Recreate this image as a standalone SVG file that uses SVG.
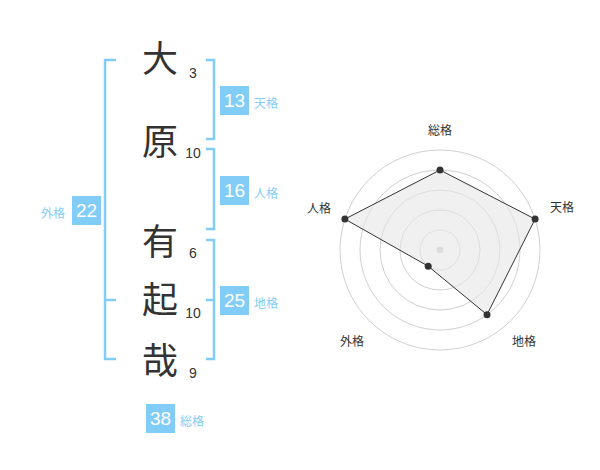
<svg xmlns="http://www.w3.org/2000/svg" width="600" height="470" viewBox="0 0 600 470">
<style>
.ch{font-family:"Noto Sans CJK JP","Noto Sans CJK SC",sans-serif;font-size:36px;fill:#333;text-anchor:middle}
.st{font-family:"Liberation Sans",Arial,sans-serif;font-size:14px;fill:#333;text-anchor:middle}
.bx{fill:#82cdf8}
.bn{font-family:"Liberation Sans",Arial,sans-serif;font-size:19px;fill:#fff;text-anchor:middle}
.lb{font-family:"Noto Sans CJK JP",sans-serif;font-size:12px;fill:#82cdf8}
.br{fill:none;stroke:#82cdf8;stroke-width:2.5}
.rg{fill:none;stroke:#d0d0d0;stroke-width:1}
.rl{font-family:"Noto Sans CJK JP",sans-serif;font-size:12px;fill:#333;text-anchor:middle}
.pt{fill:#333}
</style>
<rect width="600" height="470" fill="#fff"/>
<g id="connectors">
<path class="br" d="M116,60 H105 V359 H116 M105,300 H116"/>
<path class="br" d="M206,60 H214 V139 H206"/>
<path class="br" d="M206,149 H214 V229 H206"/>
<path class="br" d="M206,240 H214 V359 H206 M206,300 H214"/>
</g>
<g id="chars">
<text class="ch" x="160" y="72">大</text>
<text class="ch" x="160" y="155">原</text>
<text class="ch" x="160" y="255">有</text>
<text class="ch" x="160" y="313">起</text>
<text class="ch" x="160" y="374">哉</text>
<text class="st" x="193" y="78">3</text>
<text class="st" x="193" y="158">10</text>
<text class="st" x="193" y="258">6</text>
<text class="st" x="193" y="318">10</text>
<text class="st" x="193" y="378">9</text>
</g>
<g id="tenkaku"><rect class="bx" x="220" y="86" width="29" height="29"/><text class="bn" x="234.5" y="107">13</text><text class="lb" x="254" y="108">天格</text></g>
<g id="jinkaku"><rect class="bx" x="220" y="176" width="29" height="29"/><text class="bn" x="234.5" y="197">16</text><text class="lb" x="254" y="198">人格</text></g>
<g id="chikaku"><rect class="bx" x="220" y="286" width="29" height="29"/><text class="bn" x="234.5" y="307">25</text><text class="lb" x="254" y="308">地格</text></g>
<g id="gaikaku"><rect class="bx" x="72" y="196" width="29" height="29"/><text class="bn" x="86.5" y="217">22</text><text class="lb" x="41" y="218">外格</text></g>
<g id="soukaku"><rect class="bx" x="146" y="404" width="29" height="29"/><text class="bn" x="160.5" y="425">38</text><text class="lb" x="180" y="426">総格</text></g>
<g id="radar">
<circle class="rg" cx="440" cy="250" r="20"/>
<circle class="rg" cx="440" cy="250" r="40"/>
<circle class="rg" cx="440" cy="250" r="60"/>
<circle class="rg" cx="440" cy="250" r="80"/>
<circle class="rg" cx="440" cy="250" r="100"/>
<circle cx="440" cy="250" r="3.5" fill="#ccc"/>
<polygon points="440,170 535.1,219.1 487,314.7 428.2,266.2 344.9,219.1" fill="#e6e6e6" fill-opacity="0.6" stroke="#333" stroke-width="1"/>
<circle class="pt" cx="440" cy="170" r="3.5"/>
<circle class="pt" cx="535.1" cy="219.1" r="3.5"/>
<circle class="pt" cx="487" cy="314.7" r="3.5"/>
<circle class="pt" cx="428.2" cy="266.2" r="3.5"/>
<circle class="pt" cx="344.9" cy="219.1" r="3.5"/>
<text class="rl" x="440" y="135">総格</text>
<text class="rl" x="562" y="212">天格</text>
<text class="rl" x="319" y="213">人格</text>
<text class="rl" x="352" y="346">外格</text>
<text class="rl" x="524" y="346">地格</text>
</g>
</svg>
